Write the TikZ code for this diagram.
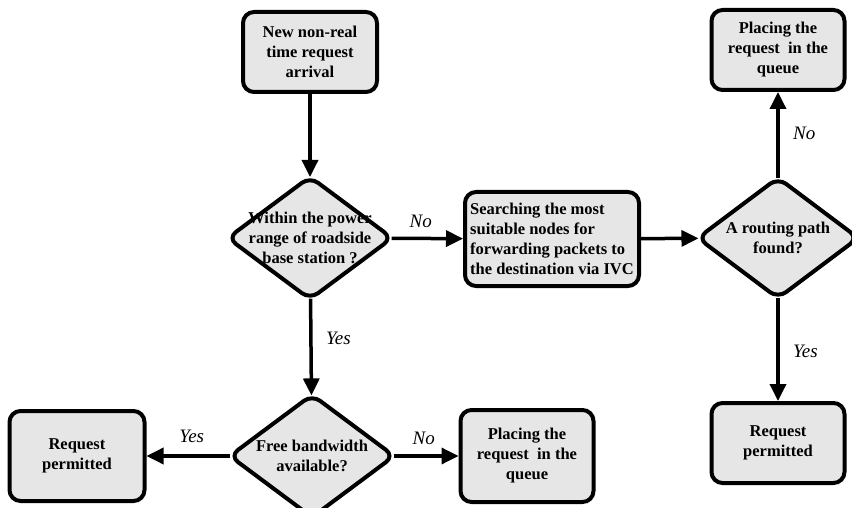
\documentclass[tikz,border=0pt]{standalone}
\usepackage{fontspec}
\setmainfont{Liberation Serif}
\usetikzlibrary{
	arrows.meta,
	shapes.geometric,
	positioning
}
\definecolor{BoxGray}{RGB}{230,230,230}

\begin{document}
\begin{tikzpicture}[x=1pt, y=-1pt,
		process/.style={draw, line width=4pt, rounded corners=11pt, fill=BoxGray, minimum width=134pt, minimum height=80pt, align=center, font=\fontsize{16.5}{20}\selectfont\bfseries},
		decision/.style={draw, diamond, line width=4pt, rounded corners=10pt, fill=BoxGray, minimum width=166pt, minimum height=124pt, inner sep=0pt},
		dtext/.style={align=center, font=\fontsize{16.5}{20}\selectfont\bfseries},
		flow/.style={line width=3.5pt, -{Triangle[length=17pt,width=16pt]}},
		answer/.style={font=\fontsize{19}{21}\selectfont\itshape}
	]
	\useasboundingbox (0,0) rectangle (852,508);
	% left column
	\node[process] (start) at (310,52) {New non-real\\time request\\arrival};
	\node[decision] (range) at (310,238) {};
	\node[dtext] (rangetext) at (range) {Within the power\\range of roadside\\base station ?};
	\node[decision] (band) at (312,456) {};
	\node[dtext] (bandtext) at (band) {Free bandwidth\\available?};
	\node[process, minimum width=135pt, minimum height=90pt] (permitA) at (77,456) {Request\\permitted};
	\node[process, minimum width=133pt, minimum height=92pt] (queueA) at (527,456) {Placing the\\request \ in the\\queue};
	% right column
	\node[process, minimum width=174pt, minimum height=94pt, align=left, inner sep=3pt] (search) at (552,239) {Searching the most\\suitable nodes for\\forwarding packets to\\the destination via IVC};
	\node[decision, minimum width=162pt, minimum height=122pt] (route) at (778,238) {};
	\node[dtext] (routetext) at (route) {A routing path\\found?};
	\node[process, minimum width=133pt] (queueB) at (778,50) {Placing the\\request \ in the\\queue};
	\node[process, minimum width=133pt] (permitB) at (778,443) {Request\\permitted};

	\draw[flow, shorten >=-3pt] (start) -- (range);
	\draw[flow, shorten <=-3pt] (range) -- node[answer, above=6pt, xshift=-8pt] {No} (search);
	\draw[flow, shorten <=-3pt, shorten >=-3pt] (range) -- node[answer, right=10pt, pos=0.4] {Yes} (band);
	\draw[flow, shorten <=-3pt] (band) -- node[answer, above=8pt, xshift=5pt] {Yes} (permitA);
	\draw[flow, shorten <=-3pt] (band) -- node[answer, above=6pt, xshift=-4pt] {No} (queueA);
	\draw[flow, shorten >=-3pt] (search) -- (route);
	\draw[flow, shorten <=-3pt] (route) -- node[answer, right=10pt] {No} (queueB);
	\draw[flow, shorten <=-3pt] (route) -- node[answer, right=10pt] {Yes} (permitB);
\end{tikzpicture}
\end{document}
